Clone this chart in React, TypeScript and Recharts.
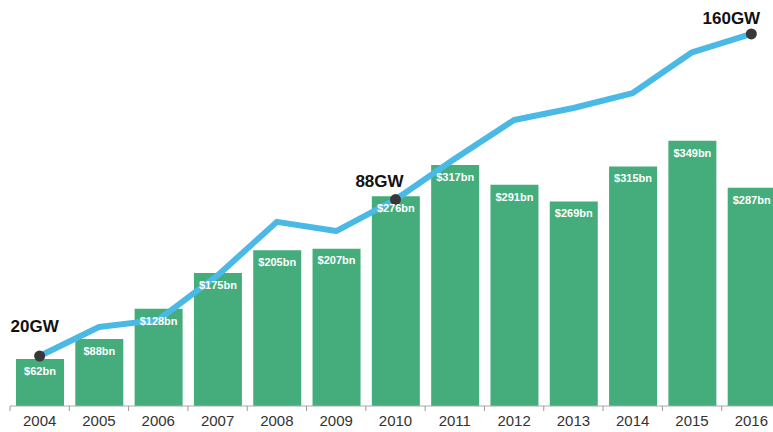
import React from 'react';
import { ComposedChart, Bar, Line, XAxis, YAxis, LabelList } from 'recharts';

const years = ['2004', '2005', '2006', '2007', '2008', '2009', '2010', '2011', '2012', '2013', '2014', '2015', '2016'];
const investmentBn = [62, 88, 128, 175, 205, 207, 276, 317, 291, 269, 315, 349, 287];
const capacityGW = [20, 32.6, 35.7, 55, 78.3, 74.3, 88, 105.7, 122.6, 127.8, 134.3, 152, 160];
const annotated = [0, 6, 12];
const annotationOffsets: Record<number, [number, number]> = { 0: [-5, -30], 6: [-16, -19], 12: [-20, -16] };

const data = years.map((y, i) => ({ year: y, inv: investmentBn[i], gw: capacityGW[i] }));

const GREEN = '#44AD7B';
const BLUE = '#4BB9E6';

const Tick = (props: any) => {
  const { x, y, payload } = props;
  const off = payload && payload.offset ? payload.offset : 29.65;
  return (
    <g>
      <line x1={x - off} x2={x - off} y1={y} y2={y + 5} stroke="#999" strokeWidth={1} />
      <text
        x={x}
        y={y + 20}
        textAnchor="middle"
        fontSize={15}
        fill="#333"
        fontFamily="'Liberation Sans Narrow', 'Arial Narrow', 'Liberation Sans', Arial, sans-serif"
      >
        {payload.value}
      </text>
    </g>
  );
};

const Dot = (props: any) => {
  const { cx, cy, index, payload } = props;
  if (!annotated.includes(index)) return <g key={`d${index}`} />;
  const [dx, dy] = annotationOffsets[index];
  return (
    <g key={`d${index}`}>
      <circle cx={cx} cy={cy} r={5.5} fill="#383838" />
      <text
        x={cx + dx}
        y={cy + dy + 6}
        textAnchor="middle"
        fontSize={17}
        fontWeight="bold"
        fill="#111"
        fontFamily="'Liberation Sans', Arial, sans-serif"
      >
        {`${payload.gw}GW`}
      </text>
    </g>
  );
};

export default function App() {
  return (
    <div style={{ position: 'absolute', left: 0, top: 0, width: 773, height: 432, overflow: 'hidden', background: '#fff' }}>
      <ComposedChart
        width={781}
        height={432}
        data={data}
        margin={{ top: 10, right: 0, bottom: 0, left: 10 }}
        barCategoryGap={0}
      >
        <XAxis
          dataKey="year"
          height={26}
          axisLine={{ stroke: '#aaa' }}
          tickLine={false}
          tickSize={0}
          tickMargin={0}
          tick={<Tick />}
          interval={0}
        />
        <YAxis yAxisId="bar" hide domain={[0, 521]} allowDataOverflow />
        <YAxis yAxisId="gw" hide orientation="right" domain={[-1.74, 170.4]} allowDataOverflow />
        <Bar yAxisId="bar" dataKey="inv" fill={GREEN} barSize={48} isAnimationActive={false}>
          <LabelList
            dataKey="inv"
            position="insideTop"
            offset={8}
            formatter={(v: any) => `$${v}bn`}
            fill="#fff"
            fontSize={11}
            fontWeight="bold"
            fontFamily="'Liberation Sans', Arial, sans-serif"
          />
        </Bar>
        <Line
          yAxisId="gw"
          type="linear"
          dataKey="gw"
          stroke={BLUE}
          strokeWidth={6}
          strokeLinejoin="round"
          dot={Dot}
          activeDot={false}
          isAnimationActive={false}
        />
      </ComposedChart>
    </div>
  );
}
